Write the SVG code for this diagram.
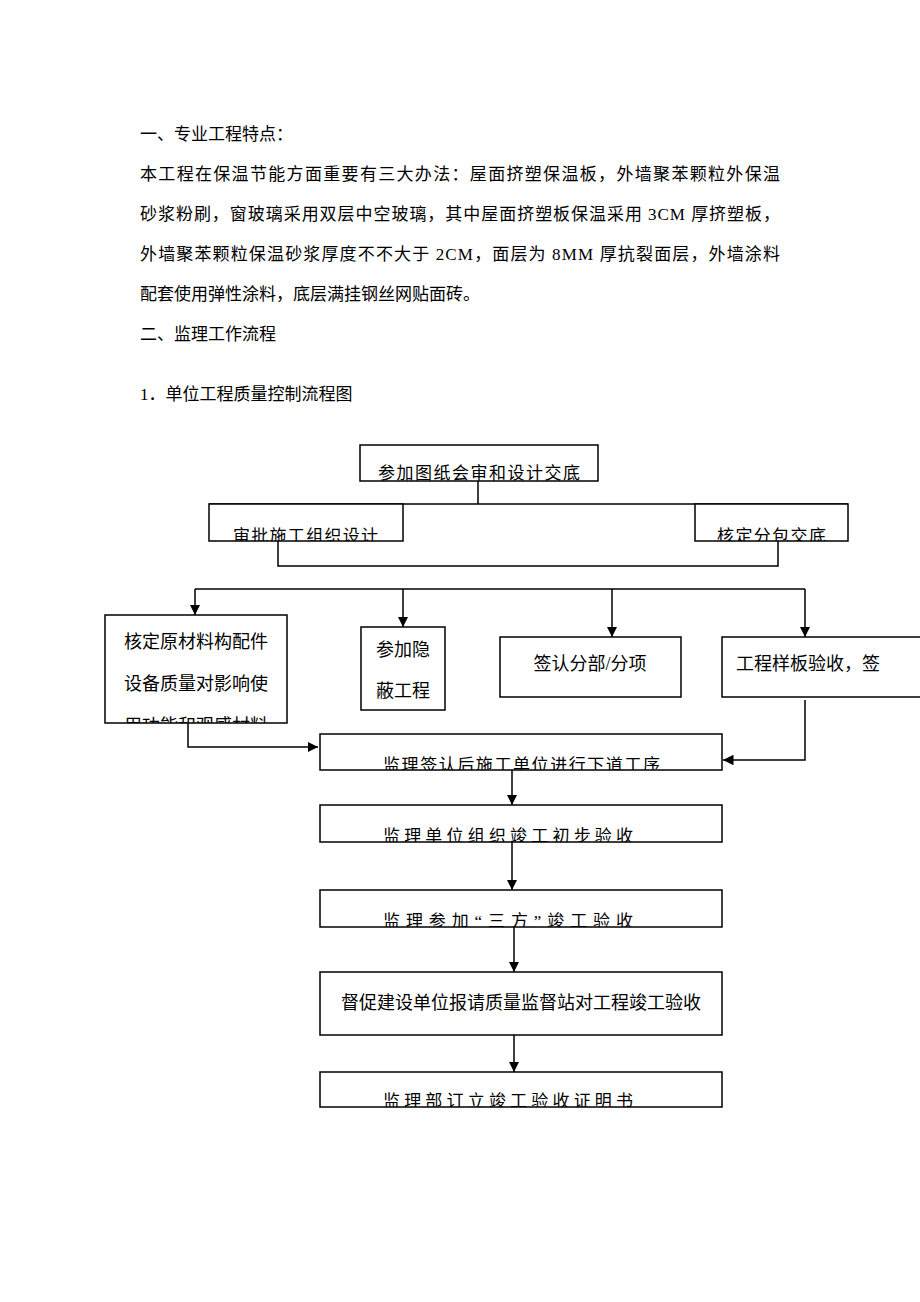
<svg xmlns="http://www.w3.org/2000/svg" width="920" height="1302" viewBox="0 0 920 1302">
<style>
.t{font-family:"Liberation Serif","Noto Sans CJK SC",serif;font-size:17px;fill:#000}
.b{fill:#fff;stroke:#000;stroke-width:1.5}
.s{font-family:"Liberation Serif","Noto Sans CJK SC",serif;font-size:17px;fill:#000}
.m{font-family:"Liberation Serif","Noto Sans CJK SC",serif;font-size:18px;fill:#000}
.c{fill:none;stroke:#000;stroke-width:1.5}
</style>
<defs>
<marker id="a" viewBox="0 0 10 10" refX="10" refY="5" markerWidth="7" markerHeight="7" orient="auto"><path d="M0,0L10,5L0,10z" fill="#000"/></marker>
<clipPath id="k1"><rect x="360" y="445" width="238" height="36"/></clipPath>
<clipPath id="k2"><rect x="209" y="504" width="194" height="37"/></clipPath>
<clipPath id="k3"><rect x="695" y="504" width="153" height="37"/></clipPath>
<clipPath id="k4"><rect x="105" y="615" width="182" height="108"/></clipPath>
<clipPath id="k5"><rect x="320" y="734" width="402" height="36"/></clipPath>
<clipPath id="k6"><rect x="320" y="805" width="402" height="37"/></clipPath>
<clipPath id="k7"><rect x="320" y="890" width="402" height="37"/></clipPath>
<clipPath id="k8"><rect x="320" y="1072" width="402" height="35"/></clipPath>
<clipPath id="k9"><rect x="722" y="637" width="198" height="60"/></clipPath>
</defs>
<g id="header">
<text class="t" x="140" y="140">一、专业工程特点：</text>
<text class="t" x="140" y="180" textLength="640">本工程在保温节能方面重要有三大办法：屋面挤塑保温板，外墙聚苯颗粒外保温</text>
<text class="t" x="140" y="220" textLength="640">砂浆粉刷，窗玻璃采用双层中空玻璃，其中屋面挤塑板保温采用 3CM 厚挤塑板，</text>
<text class="t" x="140" y="260" textLength="640">外墙聚苯颗粒保温砂浆厚度不不大于 2CM，面层为 8MM 厚抗裂面层，外墙涂料</text>
<text class="t" x="140" y="300">配套使用弹性涂料，底层满挂钢丝网贴面砖。</text>
<text class="t" x="140" y="340">二、监理工作流程</text>
<text class="t" x="140" y="400">1．单位工程质量控制流程图</text>
</g>
<g id="connectors">
<path class="c" d="M478,481V504M209,504H848M278,541V566H778V541"/>
<path class="c" d="M195,589H805"/>
<path class="c" d="M195,589V615" marker-end="url(#a)"/>
<path class="c" d="M403,589V627" marker-end="url(#a)"/>
<path class="c" d="M612,589V637" marker-end="url(#a)"/>
<path class="c" d="M805,589V637" marker-end="url(#a)"/>
<path class="c" d="M188,723V747H318" marker-end="url(#a)"/>
<path class="c" d="M805,700V760H723" marker-end="url(#a)"/>
<path class="c" d="M512,770V805" marker-end="url(#a)"/>
<path class="c" d="M512,842V890" marker-end="url(#a)"/>
<path class="c" d="M514,927V972" marker-end="url(#a)"/>
<path class="c" d="M514,1035V1072" marker-end="url(#a)"/>
</g>
<g id="n1"><rect class="b" x="360" y="445" width="238" height="36"/><text class="s" x="378" y="479" textLength="202" clip-path="url(#k1)">参加图纸会审和设计交底</text></g>
<g id="n2"><rect class="b" x="209" y="504" width="194" height="37"/><text class="s" x="233" y="542" textLength="145" clip-path="url(#k2)">审批施工组织设计</text></g>
<g id="n3"><rect class="b" x="695" y="504" width="153" height="37"/><text class="s" x="717" y="542" textLength="109" clip-path="url(#k3)">核定分包交底</text></g>
<g id="n4"><rect class="b" x="105" y="615" width="182" height="108"/><g clip-path="url(#k4)"><text class="m" x="196" y="648" text-anchor="middle">核定原材料构配件</text><text class="m" x="196" y="690" text-anchor="middle">设备质量对影响使</text><text class="m" x="196" y="732" text-anchor="middle">用功能和观感材料</text></g></g>
<g id="n5"><rect class="b" x="361" y="627" width="84" height="83"/><text class="m" x="376" y="656">参加隐</text><text class="m" x="376" y="697">蔽工程</text></g>
<g id="n6"><rect class="b" x="500" y="637" width="181" height="60"/><text class="m" x="590" y="670" text-anchor="middle">签认分部/分项</text></g>
<g id="n7"><rect class="b" x="722" y="637" width="200" height="60"/><text class="m" x="736" y="670" clip-path="url(#k9)">工程样板验收，签</text></g>
<g id="n8"><rect class="b" x="320" y="734" width="402" height="36"/><text class="s" x="383" y="771" textLength="277" clip-path="url(#k5)">监理签认后施工单位进行下道工序</text></g>
<g id="n9"><rect class="b" x="320" y="805" width="402" height="37"/><text class="s" x="383" y="842" textLength="250" clip-path="url(#k6)">监理单位组织竣工初步验收</text></g>
<g id="n10"><rect class="b" x="320" y="890" width="402" height="37"/><text class="s" x="383" y="927" textLength="250" clip-path="url(#k7)">监理参加“三方”竣工验收</text></g>
<g id="n11"><rect class="b" x="320" y="972" width="402" height="63"/><text class="m" x="521" y="1009" text-anchor="middle">督促建设单位报请质量监督站对工程竣工验收</text></g>
<g id="n12"><rect class="b" x="320" y="1072" width="402" height="35"/><text class="s" x="383" y="1107" textLength="250" clip-path="url(#k8)">监理部订立竣工验收证明书</text></g>
</svg>
